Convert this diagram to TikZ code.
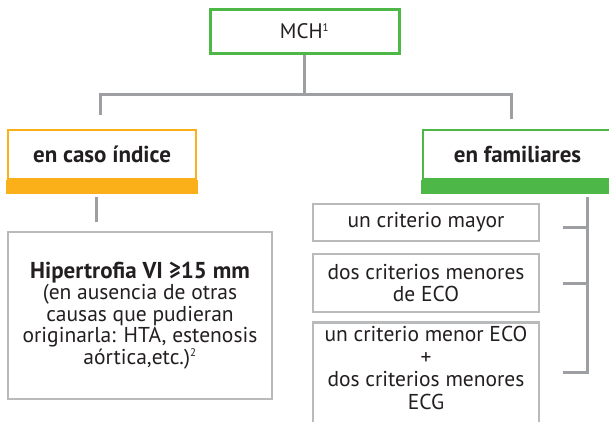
\documentclass[tikz,border=0pt]{standalone}
\usepackage{fontspec}
\setmainfont{PT Sans}
\definecolor{verde}{HTML}{4DB848}
\definecolor{naranja}{HTML}{FBB01A}
\definecolor{gris}{HTML}{9D9FA2}
\definecolor{grisclaro}{HTML}{B9BABC}
\definecolor{texto}{HTML}{231F20}
\newcommand{\nota}[1]{\textsuperscript{\fontsize{11}{11}\selectfont #1}}

\begin{document}
\begin{tikzpicture}[x=1pt, y=-1pt,
		linea/.style={gris, line width=3pt},
		caja/.style={draw=grisclaro, line width=2.5pt, text=texto, align=center,
			inner sep=0pt, font=\fontsize{21.5}{22.5}\selectfont},
		cabecera/.style={line width=2pt, text=texto, inner sep=0pt,
			minimum height=49pt, font=\fontsize{23}{26}\selectfont\bfseries}]
				\useasboundingbox (0,0) rectangle (609,421);
				\clip (0,0) rectangle (609,421);
				\fill[white] (0,0) rectangle (609,421);
				% raiz
				\node[draw=verde, line width=3pt, minimum width=189pt, minimum height=44pt,
					text=texto, font=\fontsize{21}{24}\selectfont] (mch) at (304.5,31) {MCH\nota{1}};
				% ramas
				\node[cabecera, draw=naranja, minimum width=188pt] (indice) at (102,154.5) {en caso índice};
				\node[cabecera, draw=verde, minimum width=189pt] (familiares) at (517.5,154.5) {en familiares};
				\fill[naranja] ([xshift=-1pt]indice.south west) rectangle ([xshift=1pt, yshift=-14pt]indice.south east);
				\fill[verde] ([xshift=-1pt]familiares.south west) rectangle ([xshift=1pt, yshift=-14pt]familiares.south east);
				% caso indice
				\node[caja, minimum width=264pt, minimum height=167pt, font=\fontsize{21.5}{21.5}\selectfont] (hiper) at (140,315.5)
					{{\fontsize{23}{21.5}\selectfont\bfseries Hipertrofia VI ≥15 mm}\\(en ausencia de otras\\causas que pudieran\\originarla: HTA, estenosis\\aórtica,etc.)\nota{2}};
				% familiares
				\node[caja, minimum width=226pt, minimum height=37pt] (crit1) at (426,222.5) {un criterio mayor};
				\node[caja, minimum width=226pt, minimum height=58pt] (crit2) at (426,283) {dos criterios menores\\de ECO};
				\node[caja, minimum width=226pt, anchor=north, inner ysep=4pt] (crit3) at (426,321)
					{un criterio menor ECO\\+\\dos criterios menores\\ECG\rule[-30pt]{0pt}{30pt}};
				% conectores
				\coordinate (ramal) at (304.5,94);
				\coordinate (ci) at (100,115);
				\coordinate (cf) at (511,119);
				\draw[linea] (mch.south) -- (ramal);
				\draw[linea] (ci) |- (ramal) -| (cf);
				\coordinate (h0) at (96,197);
				\coordinate (h1) at (96,222);
				\draw[linea] (h0) -- (h1);
				% llave
				\coordinate (ll) at (587,197);
				\coordinate (lm1) at (563,227);
				\coordinate (lm2) at (563,283);
				\coordinate (lm3) at (563,372);
				\draw[linea] (ll) |- (lm3);
				\draw[linea] (lm1) -- (lm1 -| ll);
				\draw[linea] (lm2) -- (lm2 -| ll);
			\end{tikzpicture}
\end{document}
